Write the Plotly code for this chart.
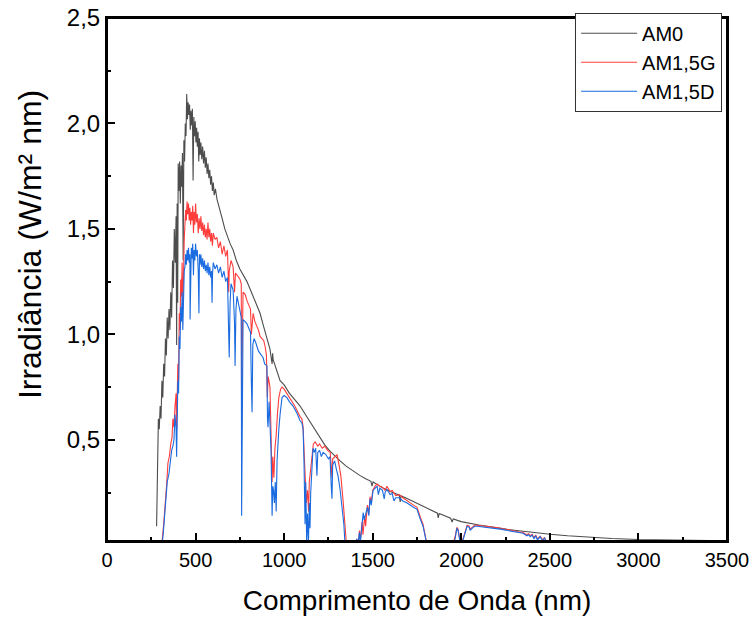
import plotly.graph_objects as go

# spectra (nm, W/m2 nm)
am0_nm = [280, 285, 290, 295, 300, 305, 310, 315, 320, 325, 330, 335, 340, 345, 350, 355,
          360, 365, 370, 375, 380, 385, 390, 393, 396, 399, 402, 406, 410, 414, 418, 422,
          426, 430, 434, 438, 442, 446, 450, 454, 458, 462, 466, 470, 474, 478, 482, 486,
          490, 494, 498, 502, 506, 510, 514, 518, 522, 526, 530, 535, 540, 545, 550, 555,
          560, 565, 570, 575, 580, 585, 590, 595, 600, 605, 612, 621, 635, 650, 665, 680,
          695, 712, 730, 750, 770, 790, 810, 830, 850, 864, 880, 900, 920, 932, 935, 938,
          950, 965, 977, 1000, 1030, 1060, 1090, 1120, 1150, 1180, 1203, 1230, 1260, 1290,
          1316, 1350, 1390, 1429, 1460, 1490, 1496, 1502, 1530, 1560, 1600, 1650, 1655,
          1660, 1694, 1740, 1790, 1840, 1865, 1870, 1875, 1940, 1948, 1955, 1999, 2100,
          2180, 2259, 2350, 2430, 2501, 2600, 2744, 2850, 3000, 3200, 3500, 4000]
am0_irr = [0.09, 0.35, 0.60, 0.55, 0.66, 0.60, 0.78, 0.70, 0.86, 0.80, 0.98, 0.90, 1.08, 0.98,
           1.12, 1.02, 1.20, 1.08, 1.35, 1.22, 1.50, 1.34, 1.56, 0.95, 1.62, 1.15, 1.81, 1.68,
           1.82, 1.62, 1.80, 1.70, 1.86, 1.35, 1.92, 1.82, 2.00, 1.94, 2.14, 2.02, 2.10, 2.04,
           2.09, 1.97, 2.06, 1.99, 2.07, 1.73, 2.03, 1.94, 2.01, 1.91, 1.98, 1.89, 1.96, 1.82,
           1.93, 1.85, 1.91, 1.83, 1.89, 1.81, 1.87, 1.79, 1.84, 1.76, 1.81, 1.74, 1.78, 1.71,
           1.75, 1.68, 1.72, 1.66, 1.69, 1.64, 1.59, 1.55, 1.50, 1.46, 1.43, 1.40, 1.35, 1.31,
           1.28, 1.25, 1.21, 1.17, 1.13, 1.10, 1.05, 0.99, 0.93, 0.86, 0.91, 0.88, 0.85, 0.81,
           0.78, 0.76, 0.72, 0.69, 0.66, 0.62, 0.58, 0.54, 0.505, 0.475, 0.445, 0.42, 0.40,
           0.375, 0.35, 0.33, 0.315, 0.303, 0.28, 0.30, 0.285, 0.27, 0.255, 0.237, 0.205,
           0.234, 0.222, 0.203, 0.183, 0.163, 0.152, 0.13, 0.15, 0.128, 0.11, 0.125, 0.112,
           0.096, 0.084, 0.075, 0.066, 0.058, 0.052, 0.045, 0.037, 0.032, 0.027, 0.023, 0.019,
           0.014]

am15g_nm = [305, 311, 320, 328, 336, 344, 352, 360, 367, 372, 378, 384, 390, 393, 396, 400,
            404, 408, 412, 416, 420, 424, 428, 432, 436, 440, 444, 448, 452, 456, 460, 464,
            468, 472, 476, 480, 484, 488, 492, 496, 500, 505, 510, 515, 520, 525, 530, 535,
            540, 545, 550, 555, 560, 565, 570, 575, 580, 585, 590, 595, 600, 610, 620, 630,
            640, 650, 660, 670, 680, 687, 690, 700, 712, 720, 725, 735, 751, 758, 760, 763,
            768, 780, 790, 800, 810, 815, 820, 825, 835, 847, 855, 864, 875, 885, 893, 900,
            905, 910, 920, 928, 932, 936, 942, 948, 955, 962, 970, 980, 988, 1000, 1030, 1060,
            1090, 1100, 1107, 1112, 1118, 1125, 1132, 1138, 1142, 1150, 1158, 1165, 1175,
            1190, 1200, 1215, 1230, 1245, 1260, 1266, 1270, 1274, 1285, 1299, 1310, 1320,
            1333, 1345, 1352, 1400, 1410, 1417, 1425, 1430, 1440, 1445, 1455, 1460, 1470,
            1478, 1485, 1492, 1500, 1513, 1525, 1540, 1555, 1570, 1580, 1598, 1610, 1630,
            1650, 1670, 1694, 1710, 1730, 1750, 1760, 1770, 1784, 1795, 1807, 1950, 1965,
            1975, 1982, 1990, 2000, 2008, 2020, 2033, 2045, 2050, 2061, 2075, 2089, 2110,
            2130, 2163, 2200, 2230, 2259, 2290, 2320, 2349, 2370, 2380, 2389, 2400, 2410,
            2420, 2430, 2445, 2460, 2470, 2480, 2500]
am15g_irr = [0.00, 0.02, 0.10, 0.18, 0.28, 0.39, 0.42, 0.48, 0.51, 0.60, 0.56, 0.66, 0.72, 0.55,
             0.80, 0.86, 0.78, 1.10, 1.02, 1.26, 1.18, 1.34, 1.12, 1.40, 1.45, 1.52, 1.59, 1.54,
             1.63, 1.57, 1.62, 1.54, 1.60, 1.52, 1.58, 1.54, 1.61, 1.48, 1.58, 1.52, 1.62, 1.53,
             1.57, 1.48, 1.55, 1.50, 1.56, 1.49, 1.53, 1.47, 1.52, 1.46, 1.50, 1.45, 1.53, 1.46,
             1.50, 1.44, 1.48, 1.42, 1.48, 1.45, 1.46, 1.41, 1.44, 1.38, 1.42, 1.37, 1.40, 1.20,
             1.30, 1.35, 1.32, 1.20, 1.29, 1.28, 1.26, 1.24, 0.55, 0.90, 1.20, 1.19, 1.16, 1.14,
             1.12, 1.00, 1.08, 1.10, 1.06, 1.04, 1.02, 0.99, 0.98, 0.97, 0.94, 0.90, 0.70, 0.80,
             0.75, 0.50, 0.30, 0.42, 0.32, 0.46, 0.52, 0.62, 0.70, 0.74, 0.75, 0.74, 0.70, 0.66,
             0.61, 0.60, 0.56, 0.45, 0.30, 0.20, 0.26, 0.16, 0.30, 0.36, 0.43, 0.48, 0.49, 0.47,
             0.48, 0.46, 0.47, 0.45, 0.44, 0.36, 0.32, 0.41, 0.42, 0.43, 0.38, 0.33, 0.21, 0.08,
             0.00, 0.00, 0.03, 0.00, 0.07, 0.02, 0.11, 0.05, 0.14, 0.09, 0.19, 0.15, 0.23, 0.20,
             0.26, 0.28, 0.29, 0.28, 0.275, 0.26, 0.28, 0.255, 0.26, 0.235, 0.24, 0.225, 0.21,
             0.20, 0.19, 0.18, 0.15, 0.13, 0.10, 0.05, 0.00, 0.00, 0.04, 0.085, 0.075, 0.035,
             0.00, 0.025, 0.065, 0.095, 0.09, 0.075, 0.085, 0.095, 0.095, 0.092, 0.09, 0.087,
             0.084, 0.08, 0.075, 0.07, 0.064, 0.06, 0.05, 0.055, 0.045, 0.052, 0.035, 0.048,
             0.03, 0.042, 0.025, 0.037, 0.018, 0.00]

am15d_nm = [305, 311, 318, 325, 333, 340, 350, 357, 365, 372, 378, 384, 390, 393, 396, 400,
            404, 408, 412, 416, 420, 424, 428, 432, 436, 440, 444, 448, 452, 456, 460, 464,
            468, 469, 472, 476, 480, 484, 488, 492, 496, 500, 505, 510, 515, 519, 522, 526,
            530, 535, 540, 545, 550, 555, 560, 565, 570, 575, 580, 585, 590, 593, 596, 600,
            610, 620, 630, 640, 650, 660, 670, 680, 687, 690, 695, 700, 712, 720, 723, 728,
            734, 745, 751, 758, 760, 763, 768, 780, 790, 800, 810, 815, 819, 823, 830, 840,
            847, 855, 864, 872, 881, 890, 903, 906, 909, 915, 920, 926, 932, 936, 940, 945,
            950, 955, 960, 965, 970, 977, 983, 988, 1000, 1016, 1030, 1050, 1070, 1090, 1100,
            1107, 1112, 1118, 1122, 1127, 1132, 1137, 1142, 1146, 1150, 1155, 1163, 1170,
            1178, 1185, 1190, 1200, 1210, 1220, 1235, 1250, 1259, 1266, 1270, 1274, 1285,
            1295, 1304, 1315, 1327, 1337, 1344, 1400, 1410, 1417, 1425, 1430, 1440, 1446,
            1452, 1460, 1470, 1478, 1485, 1492, 1502, 1513, 1525, 1532, 1540, 1555, 1565,
            1570, 1580, 1598, 1610, 1620, 1630, 1650, 1670, 1694, 1710, 1730, 1750, 1760,
            1770, 1784, 1795, 1807, 1950, 1965, 1975, 1982, 1990, 2000, 2008, 2020, 2033,
            2045, 2050, 2061, 2075, 2089, 2110, 2130, 2163, 2200, 2230, 2259, 2290, 2320,
            2349, 2370, 2380, 2389, 2400, 2410, 2420, 2430, 2445, 2460, 2470, 2480, 2500]
am15d_irr = [0.00, 0.00, 0.06, 0.15, 0.25, 0.30, 0.34, 0.40, 0.45, 0.47, 0.50, 0.62, 0.55, 0.42,
             0.70, 0.78, 0.72, 0.99, 0.93, 1.13, 1.06, 1.20, 1.02, 1.28, 1.30, 1.32, 1.38, 1.33,
             1.40, 1.35, 1.41, 1.34, 1.38, 1.07, 1.36, 1.41, 1.36, 1.43, 1.28, 1.40, 1.35, 1.43,
             1.37, 1.40, 1.30, 1.10, 1.38, 1.33, 1.38, 1.32, 1.36, 1.31, 1.35, 1.30, 1.33, 1.29,
             1.34, 1.28, 1.32, 1.27, 1.30, 1.15, 1.29, 1.34, 1.31, 1.33, 1.29, 1.32, 1.27, 1.30,
             1.25, 1.27, 1.00, 0.89, 1.15, 1.24, 1.21, 1.05, 0.85, 1.12, 1.18, 1.13, 1.10, 1.08,
             0.14, 0.70, 1.07, 1.06, 1.05, 1.03, 1.01, 0.77, 0.63, 0.95, 0.98, 0.96, 0.94, 0.92,
             0.91, 0.90, 0.89, 0.86, 0.85, 0.60, 0.56, 0.68, 0.60, 0.45, 0.14, 0.28, 0.26, 0.20,
             0.30, 0.16, 0.40, 0.50, 0.55, 0.62, 0.68, 0.70, 0.71, 0.70, 0.68, 0.66, 0.63, 0.59,
             0.58, 0.55, 0.40, 0.10, 0.30, 0.02, 0.15, 0.00, 0.20, 0.08, 0.25, 0.35, 0.46, 0.44,
             0.46, 0.33, 0.44, 0.45, 0.42, 0.44, 0.43, 0.41, 0.42, 0.28, 0.22, 0.38, 0.40, 0.36,
             0.33, 0.27, 0.18, 0.10, 0.00, 0.00, 0.03, 0.00, 0.06, 0.01, 0.10, 0.155, 0.12, 0.15,
             0.18, 0.14, 0.22, 0.19, 0.26, 0.27, 0.28, 0.24, 0.27, 0.26, 0.22, 0.25, 0.265, 0.24,
             0.245, 0.21, 0.225, 0.225, 0.21, 0.20, 0.19, 0.18, 0.17, 0.14, 0.12, 0.09, 0.04,
             0.00, 0.00, 0.03, 0.08, 0.07, 0.03, 0.00, 0.02, 0.06, 0.09, 0.085, 0.07, 0.08, 0.09,
             0.09, 0.088, 0.085, 0.082, 0.08, 0.075, 0.07, 0.066, 0.06, 0.057, 0.045, 0.05, 0.04,
             0.048, 0.03, 0.045, 0.025, 0.04, 0.02, 0.035, 0.015, 0.00]

x_ticks = [0, 500, 1000, 1500, 2000, 2500, 3000, 3500]
x_labels = ["0", "500", "1000", "1500", "2000", "2500", "3000", "3500"]
y_ticks = [0.5, 1.0, 1.5, 2.0, 2.5]
y_labels = ["0,5", "1,0", "1,5", "2,0", "2,5"]

fnt = "Liberation Sans, Arial, sans-serif"

fig = go.Figure()
fig.add_trace(go.Scatter(x=am0_nm, y=am0_irr, mode="lines", name="AM0",
                         line=dict(color="#4d4d4d", width=1.1)))
fig.add_trace(go.Scatter(x=am15g_nm, y=am15g_irr, mode="lines", name="AM1,5G",
                         line=dict(color="#ff3c3c", width=1.1)))
fig.add_trace(go.Scatter(x=am15d_nm, y=am15d_irr, mode="lines", name="AM1,5D",
                         line=dict(color="#1a6be0", width=1.1)))

axis_common = dict(showline=True, linecolor="black", linewidth=2, mirror=True,
                   ticks="inside", ticklen=8, tickwidth=2, tickcolor="black",
                   showgrid=False, zeroline=False, automargin=False,
                   ticklabeloverflow="allow")

fig.update_xaxes(range=[0, 3500], tickvals=x_ticks, ticktext=x_labels,
                 tickfont=dict(family=fnt, size=20, color="black"),
                 minor=dict(ticks="inside", ticklen=4, tickwidth=2, tickcolor="black",
                            dtick=250, tick0=0),
                 title=dict(text="Comprimento de Onda (nm)", standoff=20,
                            font=dict(family=fnt, size=28, color="black")),
                 **axis_common)
fig.update_yaxes(range=[0.02, 2.5], tickvals=y_ticks, ticktext=y_labels,
                 tickfont=dict(family=fnt, size=24, color="black"),
                 minor=dict(ticks="inside", ticklen=4, tickwidth=2, tickcolor="black",
                            dtick=0.25, tick0=0),
                 **axis_common)

# closed frame round the plot area
fig.add_shape(type="rect", xref="paper", yref="paper", x0=0, x1=1, y0=0, y1=1,
              line=dict(color="black", width=2), layer="above")

# y title placed by hand, it sits above the plot centre in the reference
fig.add_annotation(text="Irradiância (W/m² nm)", textangle=-90,
                   xref="paper", yref="paper", x=-0.124, y=0.566,
                   xanchor="center", yanchor="middle", showarrow=False,
                   font=dict(family=fnt, size=32, color="black"))

fig.update_layout(
    width=753, height=620,
    margin=dict(l=107, r=26, t=18, b=79, autoexpand=False),
    paper_bgcolor="white", plot_bgcolor="white",
    showlegend=True,
    legend=dict(x=0.755, y=1.01, xanchor="left", yanchor="top",
                bgcolor="white", bordercolor="#333", borderwidth=1,
                font=dict(family=fnt, size=20, color="black"),
                tracegroupgap=0, itemwidth=56),
)

# drop the default 8px body margin so the figure fills the window
fig.write_html("out.html", config={"displayModeBar": False},
               post_script="document.body.style.margin = '0';")
